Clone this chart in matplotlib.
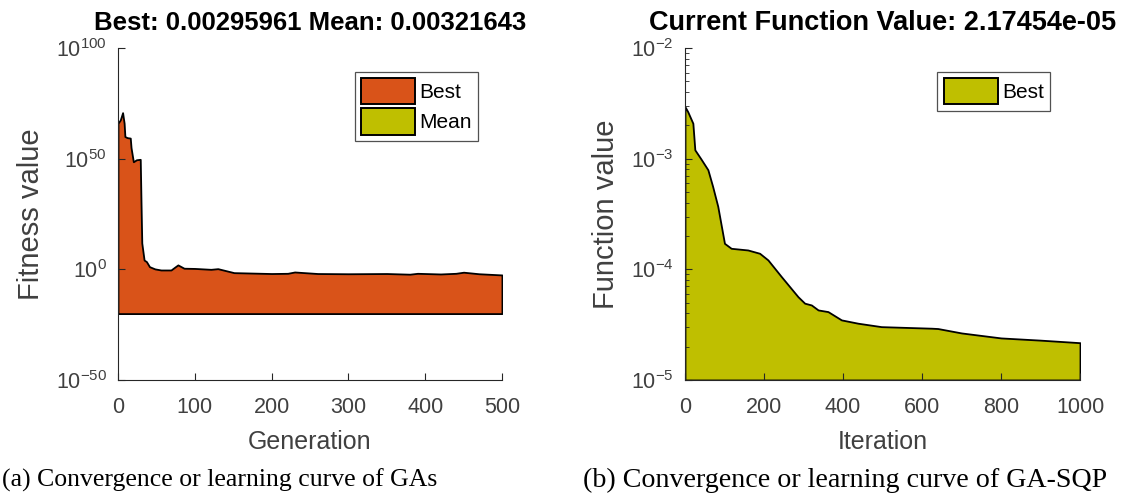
import matplotlib
matplotlib.use("Agg")
import matplotlib.pyplot as plt
from matplotlib.patches import Patch
from matplotlib.ticker import NullLocator
import numpy as np

plt.rcParams.update({
	"font.family": ["Liberation Sans", "DejaVu Sans"],
	"axes.edgecolor": "#262626",
	"xtick.color": "#262626",
	"ytick.color": "#262626",
	"xtick.labelcolor": "#404040",
	"ytick.labelcolor": "#404040",
	"xtick.direction": "in",
	"ytick.direction": "in",
	"mathtext.default": "regular",
})

ORANGE = "#D95319"
OLIVE = "#BFBF00"

# GA run: best fitness per generation (log10 of the value)
ga_gen = [0, 3, 6, 8, 9, 12, 16, 17, 20, 24, 29, 30, 31, 34, 37, 41, 48, 56, 69,
	74, 78, 86, 100, 121, 130, 151, 200, 221, 230, 260, 300, 350, 380, 390, 420,
	440, 450, 470, 500]
ga_best_log = [66.0, 67.5, 70.8, 66.0, 60.0, 59.5, 59.3, 55.0, 48.6, 49.5, 49.7,
	30.0, 11.9, 4.2, 3.5, 1.2, 0.2, -0.3, -0.3, 1.0, 2.0, 0.5, 0.4, 0.0, 0.3,
	-1.5, -1.9, -1.8, -1.2, -1.9, -2.0, -1.9, -2.2, -1.8, -2.1, -1.8, -1.3, -2.0,
	-2.53]
ga_base = 1e-20
ga_title = "Best: 0.00295961 Mean: 0.00321643"

# SQP refinement: current function value per iteration (log10)
sqp_iter = [0, 7, 20, 25, 40, 58, 70, 83, 100, 117, 159, 189, 210, 244, 286, 303,
	320, 337, 362, 396, 438, 497, 624, 640, 700, 800, 900, 1000]
sqp_best_log = [-2.53, -2.575, -2.68, -2.92, -3.00, -3.10, -3.25, -3.43, -3.765,
	-3.81, -3.825, -3.855, -3.915, -4.066, -4.247, -4.306, -4.322, -4.367, -4.382,
	-4.457, -4.487, -4.518, -4.532, -4.535, -4.575, -4.62, -4.64, -4.663]
sqp_base = 1e-5
sqp_title = "Current Function Value: 2.17454e-05"

def style_axes(ax):
	ax.spines["top"].set_visible(False)
	ax.spines["right"].set_visible(False)
	ax.tick_params(labelsize=15.5, length=5, width=0.8)
	ax.tick_params(axis="x", pad=12)
	ax.tick_params(axis="y", pad=8)
	ax.tick_params(which="minor", length=3, width=0.6)

def add_legend(ax, items, anchor):
	handles = [Patch(facecolor=c, edgecolor="k", linewidth=1.4, label=l) for l, c in items]
	leg = ax.legend(handles=handles, loc="upper right", bbox_to_anchor=anchor,
		fontsize=15, frameon=True, fancybox=False, borderaxespad=0,
		handlelength=2.6, handleheight=1.55, handletextpad=0.2,
		borderpad=0.3, labelspacing=0.2)
	leg.get_frame().set_edgecolor("#262626")
	leg.get_frame().set_linewidth(0.9)

fig = plt.figure(figsize=(11.29, 4.96), dpi=100)

# Left: GA convergence
ax1 = fig.add_axes([0.1045, 0.2339, 0.3401, 0.6693])
ax1.fill_between(ga_gen, ga_base, 10 ** np.array(ga_best_log),
	facecolor=ORANGE, edgecolor="k", linewidth=1.3)
ax1.set_yscale("log")
ax1.set_xlim(0, 500)
ax1.set_ylim(1e-50, 1e100)
ax1.set_xticks(range(0, 501, 100))
ax1.set_yticks([1e-50, 1e0, 1e50, 1e100])
ax1.set_yticklabels([r"$10^{-50}$", r"$10^{0}$", r"$10^{50}$", r"$10^{100}$"])
ax1.yaxis.set_minor_locator(NullLocator())
style_axes(ax1)
ax1.set_xlabel("Generation", fontsize=18, color="#404040", labelpad=9)
ax1.set_ylabel("Fitness value", fontsize=21, color="#404040", labelpad=8)
ax1.set_title(ga_title, fontsize=18.5, fontweight="bold", pad=13)
add_legend(ax1, [("Best", ORANGE), ("Mean", OLIVE)], (0.9375, 0.928))

# Right: GA-SQP convergence
ax2 = fig.add_axes([0.6067, 0.2339, 0.3499, 0.6693])
ax2.fill_between(sqp_iter, sqp_base, 10 ** np.array(sqp_best_log),
	facecolor=OLIVE, edgecolor="k", linewidth=1.3)
ax2.set_yscale("log")
ax2.set_xlim(0, 1000)
ax2.set_ylim(1e-5, 1e-2)
ax2.set_xticks(range(0, 1001, 200))
style_axes(ax2)
ax2.set_xlabel("Iteration", fontsize=18, color="#404040", labelpad=9)
ax2.set_ylabel("Function value", fontsize=21, color="#404040", labelpad=8)
ax2.set_title(sqp_title, fontsize=19.5, fontweight="bold", pad=13)
add_legend(ax2, [("Best", OLIVE)], (0.924, 0.928))

# captions under each panel
serif = ["Liberation Serif", "DejaVu Serif"]
fig.text(0.002, 1 - 480 / 496, "(a) Convergence or learning curve of GAs",
	fontsize=18.5, family=serif, va="center")
fig.text(583 / 1129, 1 - 480 / 496, "(b) Convergence or learning curve of GA-SQP",
	fontsize=20.2, family=serif, va="center")

fig.savefig("out.png", dpi=100)
